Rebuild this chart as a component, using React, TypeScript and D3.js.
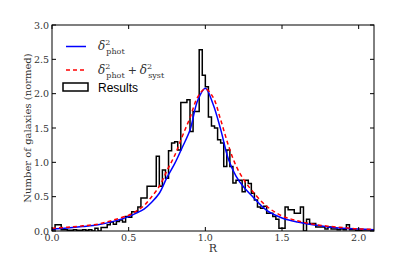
import React from 'react';
import * as d3 from 'd3';

// histogram bins (width 0.02, starting at R = 0)
const binWidth = 0.02;
const histValues = [
  0.02, 0.09, 0.09, 0.02, 0.02, 0.01, 0.01, 0.02, 0.01, 0.01,
  0.02, 0.01, 0.02, 0.0, 0.04, 0.0, 0.05, 0.05, 0.09, 0.13,
  0.10, 0.14, 0.16, 0.13, 0.21, 0.20, 0.28, 0.28, 0.35, 0.48,
  0.48, 0.65, 0.65, 0.65, 1.09, 0.65, 0.89, 0.77, 1.17, 1.28,
  1.30, 1.18, 1.87, 1.87, 1.91, 1.45, 1.74, 1.74, 2.64, 2.27,
  2.10, 1.66, 1.53, 1.50, 1.33, 1.28, 0.94, 1.18, 0.94, 0.70,
  0.74, 0.74, 0.57, 0.74, 0.69, 0.55, 0.45, 0.35, 0.33, 0.36,
  0.26, 0.26, 0.21, 0.17, 0.04, 0.04, 0.35, 0.31, 0.31, 0.26,
  0.26, 0.35, 0.0, 0.17, 0.11, 0.11, 0.06, 0.06, 0.06, 0.03,
  0.06, 0.03, 0.03, 0.02, 0.03, 0.02, 0.09, 0.02, 0.02, 0.01,
  0.01, 0.0, 0.0, 0.0, 0.0,
];

// fitted curves
const curveR = [0, 0.1, 0.2, 0.3, 0.4, 0.5, 0.55, 0.6, 0.65, 0.7, 0.75, 0.8, 0.85, 0.9, 0.95,
  1.0, 1.05, 1.1, 1.15, 1.2, 1.25, 1.3, 1.4, 1.5, 1.6, 1.7, 1.8, 1.9, 2.0, 2.1];
const photValues = [0.03, 0.045, 0.065, 0.09, 0.14, 0.21, 0.26, 0.32, 0.42, 0.55, 0.78, 0.98, 1.22, 1.47, 1.9,
  2.08, 1.85, 1.48, 1.05, 0.8, 0.64, 0.52, 0.3, 0.19, 0.13, 0.09, 0.06, 0.04, 0.03, 0.02];
const systValues = [0.04, 0.055, 0.075, 0.1, 0.16, 0.23, 0.29, 0.37, 0.5, 0.65, 0.88, 1.1, 1.38, 1.65, 1.95,
  2.07, 1.95, 1.62, 1.25, 0.95, 0.75, 0.6, 0.36, 0.22, 0.15, 0.1, 0.07, 0.05, 0.03, 0.025];

const xTicks = [0, 0.5, 1.0, 1.5, 2.0];
const yTicks = [0, 0.5, 1.0, 1.5, 2.0, 2.5, 3.0];

const W = 415;
const H = 257;
const left = 52, right = 374, top = 25, bottom = 231;
const serif = '"DejaVu Serif", "Liberation Serif", serif';

export default function App() {
  const x = d3.scaleLinear().domain([0, 2.1]).range([left, right]);
  const y = d3.scaleLinear().domain([0, 3.0]).range([bottom, top]);

  // step outline of the histogram
  const stepPts: [number, number][] = [[0, 0]];
  histValues.forEach((v, i) => {
    stepPts.push([i * binWidth, v]);
    stepPts.push([(i + 1) * binWidth, v]);
  });
  stepPts.push([histValues.length * binWidth, 0]);
  const stepPath = d3.line<[number, number]>()
    .x(d => x(d[0]))
    .y(d => y(d[1]))(stepPts) || '';

  const curve = (vals: number[]) =>
    d3.line<number>()
      .x((_, i) => x(curveR[i]))
      .y(d => y(d))
      .curve(d3.curveCatmullRom)(vals) || '';

  const fmt = d3.format('.1f');

  return (
    <svg width={W} height={H} style={{ position: 'absolute', left: 0, top: 0, background: '#fff' }}>
      <defs>
        <clipPath id="plot">
          <rect x={left} y={top} width={right - left} height={bottom - top} />
        </clipPath>
      </defs>

      <g clipPath="url(#plot)">
        <path d={stepPath} fill="none" stroke="#000" strokeWidth={1.5} />
        <path d={curve(photValues)} fill="none" stroke="#0000ff" strokeWidth={1.5} />
        <path d={curve(systValues)} fill="none" stroke="#ff0000" strokeWidth={1.5} strokeDasharray="4,3" />
      </g>

      {/* frame */}
      <rect x={left} y={top} width={right - left} height={bottom - top} fill="none" stroke="#000" strokeWidth={1} />

      {/* x ticks */}
      {xTicks.map(t => (
        <g key={'x' + t}>
          <line x1={x(t)} x2={x(t)} y1={bottom} y2={bottom - 4} stroke="#000" />
          <line x1={x(t)} x2={x(t)} y1={top} y2={top + 4} stroke="#000" />
          <text x={x(t)} y={bottom + 9.5} fontSize={9.5} fontFamily={serif} fill="#333" textAnchor="middle">{fmt(t)}</text>
        </g>
      ))}

      {/* y ticks */}
      {yTicks.map(t => (
        <g key={'y' + t}>
          <line x1={left} x2={left + 4} y1={y(t)} y2={y(t)} stroke="#000" />
          <line x1={right} x2={right - 4} y1={y(t)} y2={y(t)} stroke="#000" />
          <text x={left - 3} y={y(t) + 3.5} fontSize={9.5} fontFamily={serif} fill="#333" textAnchor="end">{fmt(t)}</text>
        </g>
      ))}

      {/* axis labels */}
      <text x={(left + right) / 2} y={252} fontSize={11} fontFamily={serif} fill="#333" textAnchor="middle">R</text>
      <text transform={`translate(31,${(top + bottom) / 2}) rotate(-90)`} fontSize={10} fontFamily={serif} fill="#333" textAnchor="middle">
        Number of galaxies (normed)
      </text>

      {/* legend */}
      <line x1={66} x2={86} y1={46.5} y2={46.5} stroke="#0000ff" strokeWidth={1.5} />
      <text x={98} y={50} fontFamily={serif} fill="#333" fontSize={12}>
        <tspan fontStyle="italic">δ</tspan>
        <tspan fontSize={8} dy={-5}>2</tspan>
        <tspan fontSize={8} dx={-4} dy={9}>phot</tspan>
      </text>
      <line x1={66} x2={86} y1={70} y2={70} stroke="#ff0000" strokeWidth={1.5} strokeDasharray="4,3" />
      <text x={98} y={73.5} fontFamily={serif} fill="#333" fontSize={12}>
        <tspan fontStyle="italic">δ</tspan>
        <tspan fontSize={8} dy={-5}>2</tspan>
        <tspan fontSize={8} dx={-4} dy={9}>phot</tspan>
        <tspan fontSize={11} dx={3} dy={-4}>+</tspan>
        <tspan fontStyle="italic" dx={3}>δ</tspan>
        <tspan fontSize={8} dy={-5}>2</tspan>
        <tspan fontSize={8} dx={-4} dy={9}>syst</tspan>
      </text>
      <rect x={63} y={83} width={25} height={8} fill="none" stroke="#000" strokeWidth={1.5} />
      <text x={98} y={92} fontFamily='"Liberation Sans", Arial, sans-serif' fontSize={12} fill="#000">Results</text>
    </svg>
  );
}
